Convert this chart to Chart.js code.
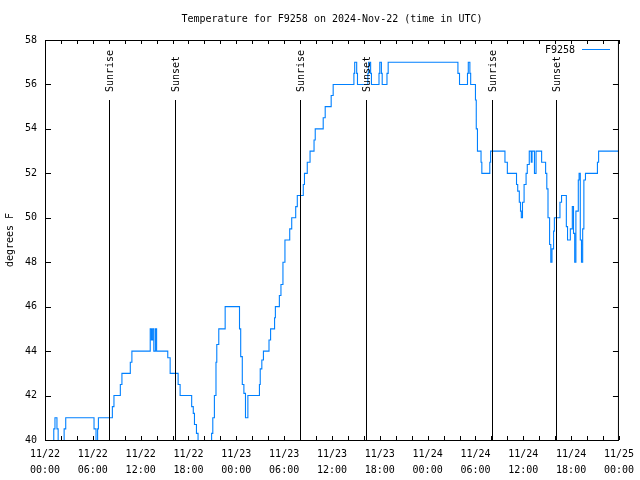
<!DOCTYPE html>
<html>
<head>
<meta charset="utf-8">
<script src="https://cdn.jsdelivr.net/npm/chart.js@4/dist/chart.umd.min.js"></script>
<style>
    body { margin: 0; background: #fff; }
    #wrap { width: 640px; height: 480px; }
</style>
</head>
<body>
<div id="wrap"><canvas id="myChart" width="640" height="480"></canvas></div>
<script>
// hours since 11/22 00:00 UTC, and temperature (F) starting at that hour
const hours = [0, 1.1, 1.25, 1.5, 1.65, 2.4, 2.6, 6.15, 6.4, 6.6, 6.7, 8.45, 8.65, 9.45, 9.65, 10.7, 10.9,
    13.2, 13.35, 13.5, 13.65, 13.85, 14.0, 15.4, 15.7, 16.7, 16.95, 18.4, 18.6, 18.75, 19.0, 19.2,
    20.9, 21.05, 21.25, 21.45, 21.55, 21.8, 22.6, 24.4, 24.55, 24.75, 24.95, 25.15, 25.45,
    26.9, 27.0, 27.2, 27.4, 28.1, 28.3, 28.8, 28.9, 29.4, 29.6, 29.85, 30.1, 30.7, 30.95,
    31.45, 31.65, 32.4, 32.55, 32.9, 33.25, 33.75, 33.9, 34.9, 35.15, 35.9, 36.15,
    38.75, 38.85, 39.1, 39.2, 40.5, 40.6, 40.85, 40.95, 41.9, 42.0, 42.2, 42.3, 42.9, 43.05,
    51.8, 52.0, 53.0, 53.1, 53.3, 53.4, 54.0, 54.1, 54.25, 54.7, 54.8, 55.8, 55.9, 57.7, 58.0,
    59.15, 59.3, 59.5, 59.65, 59.75, 59.9, 60.1, 60.35, 60.5, 60.75, 61.0, 61.1, 61.4, 61.6,
    62.3, 62.8, 62.95, 63.1, 63.3, 63.45, 63.6, 63.8, 63.9, 64.6, 64.8, 65.4, 65.55, 65.9, 66.15,
    66.3, 66.45, 66.6, 66.9, 67.0, 67.15, 67.3, 67.45, 67.6, 67.8, 69.3, 69.45, 72]
const temps = [39, 40.5, 41, 40.5, 39, 40.5, 41, 40.5, 39, 40.5, 41, 41.5, 42, 42.5, 43, 43.5, 44,
    45, 44.5, 45, 44, 45, 44, 43.7, 43, 42.5, 42, 41.5, 41.2, 40.7, 40.3, 39,
    40.3, 41, 42, 43.5, 44.3, 45, 46, 45, 43.75, 42.5, 42.1, 41, 42,
    42.5, 43.2, 43.6, 44, 44.5, 45, 45.5, 46, 46.5, 47, 48, 49, 49.5, 50,
    50.5, 51, 51.5, 52, 52.5, 53, 53.5, 54, 54.5, 55, 55.5, 56,
    56.5, 57, 56.5, 56, 56.5, 57, 56.5, 56, 56.5, 57, 56.5, 56, 56.5, 57,
    56.5, 56, 56.5, 57, 56.5, 56, 55.3, 54, 53, 52.5, 52, 52.5, 53, 52.5, 52,
    51.5, 51.2, 50.7, 50.3, 50, 50.7, 51.5, 52, 52.4, 53, 52.5, 53, 52, 53,
    52.5, 52, 51.3, 50, 48.8, 48, 48.6, 49.4, 50, 50.7, 51, 49.6, 49, 49.5, 50.5,
    49.3, 48, 50.3, 51.7, 52, 49, 48, 49.5, 51.7, 52, 52.5, 53, 53]

// x tick labels, one every 6 hours
const tickLabels = [['11/22', '00:00'], ['11/22', '06:00'], ['11/22', '12:00'], ['11/22', '18:00'],
    ['11/23', '00:00'], ['11/23', '06:00'], ['11/23', '12:00'], ['11/23', '18:00'],
    ['11/24', '00:00'], ['11/24', '06:00'], ['11/24', '12:00'], ['11/24', '18:00'], ['11/25', '00:00']]

// sunrise / sunset markers (hours)
const sunHours = [8.05, 16.3, 32.05, 40.3, 56.05, 64.1]
const sunNames = ['Sunrise', 'Sunset', 'Sunrise', 'Sunset', 'Sunrise', 'Sunset']

const FONT = '"DejaVu Sans Mono", "Liberation Mono", monospace'
const LINE_COLOR = 'rgb(0,128,255)'

const points = []
for (let i = 0; i < hours.length; i++) {
    points.push({x: hours[i], y: temps[i]})
}

// frame, inward ticks, sun lines and legend like gnuplot
const gnuplotDeco = {
    id: 'gnuplotDeco',
    afterDatasetsDraw: (chart) => {
        const {ctx, chartArea: a} = chart
        const xs = chart.scales.x
        const ys = chart.scales.y
        ctx.save()
        ctx.strokeStyle = '#000'
        ctx.lineWidth = 1
        ctx.beginPath()
        for (let v = 40; v <= 58; v += 2) {
            const y = Math.round(ys.getPixelForValue(v)) + 0.5
            ctx.moveTo(a.left, y); ctx.lineTo(a.left + 6, y)
            ctx.moveTo(a.right, y); ctx.lineTo(a.right - 6, y)
        }
        for (let h = 0; h <= 72; h += 2) {
            const x = Math.round(xs.getPixelForValue(h)) + 0.5
            ctx.moveTo(x, a.bottom); ctx.lineTo(x, a.bottom - 4)
            ctx.moveTo(x, a.top); ctx.lineTo(x, a.top + 4)
        }
        ctx.stroke()

        // sun lines
        ctx.font = '10px ' + FONT
        ctx.fillStyle = '#000'
        for (let i = 0; i < sunHours.length; i++) {
            const x = Math.round(xs.getPixelForValue(sunHours[i])) + 0.5
            ctx.beginPath()
            ctx.moveTo(x, 100); ctx.lineTo(x, a.bottom)
            ctx.stroke()
            ctx.save()
            ctx.translate(x + 1, 92)
            ctx.rotate(-Math.PI / 2)
            ctx.textAlign = 'left'
            ctx.textBaseline = 'middle'
            ctx.fillText(sunNames[i], 0, 0)
            ctx.restore()
        }

        // legend
        ctx.textAlign = 'right'
        ctx.textBaseline = 'middle'
        ctx.fillText('F9258', 575, 50)
        ctx.strokeStyle = LINE_COLOR
        ctx.beginPath()
        ctx.moveTo(582, 49.5); ctx.lineTo(610, 49.5)
        ctx.stroke()

        // frame
        ctx.strokeStyle = '#000'
        ctx.strokeRect(a.left + 0.5, a.top + 0.5, a.right - a.left - 1, a.bottom - a.top)
        ctx.restore()
    }
}

new Chart(document.getElementById('myChart'), {
    type: 'line',
    data: {
        datasets: [{
            label: 'F9258',
            data: points,
            borderColor: LINE_COLOR,
            borderWidth: 1.1,
            pointRadius: 0,
            stepped: 'before',
            fill: false
        }]
    },
    options: {
        responsive: false,
        animation: false,
        layout: {padding: {left: 0, right: 18, top: 0, bottom: 0}},
        plugins: {
            legend: {display: false},
            tooltip: {enabled: false},
            title: {
                display: true,
                fullSize: false,
                text: 'Temperature for F9258 on 2024-Nov-22 (time in UTC)',
                color: '#000',
                font: {family: FONT, size: 10, weight: 'normal'},
                padding: {top: 13, bottom: 15}
            }
        },
        scales: {
            x: {
                type: 'linear',
                min: 0,
                max: 72,
                grid: {display: false, drawTicks: false},
                border: {display: false},
                afterFit: (s) => { s.height = 40 },
                ticks: {
                    stepSize: 6,
                    autoSkip: false,
                    maxRotation: 0,
                    padding: 6,
                    color: '#000',
                    font: {family: FONT, size: 10, lineHeight: 1.6},
                    callback: (v) => tickLabels[v / 6]
                }
            },
            y: {
                min: 40,
                max: 58,
                grid: {display: false, drawTicks: false},
                border: {display: false},
                afterFit: (s) => { s.width = 45 },
                ticks: {
                    stepSize: 2,
                    padding: 8,
                    color: '#000',
                    font: {family: FONT, size: 10}
                },
                title: {
                    display: true,
                    text: 'degrees F',
                    color: '#000',
                    font: {family: FONT, size: 10},
                    padding: {top: 4, bottom: 0}
                }
            }
        }
    },
    plugins: [gnuplotDeco]
})
</script>
</body>
</html>
